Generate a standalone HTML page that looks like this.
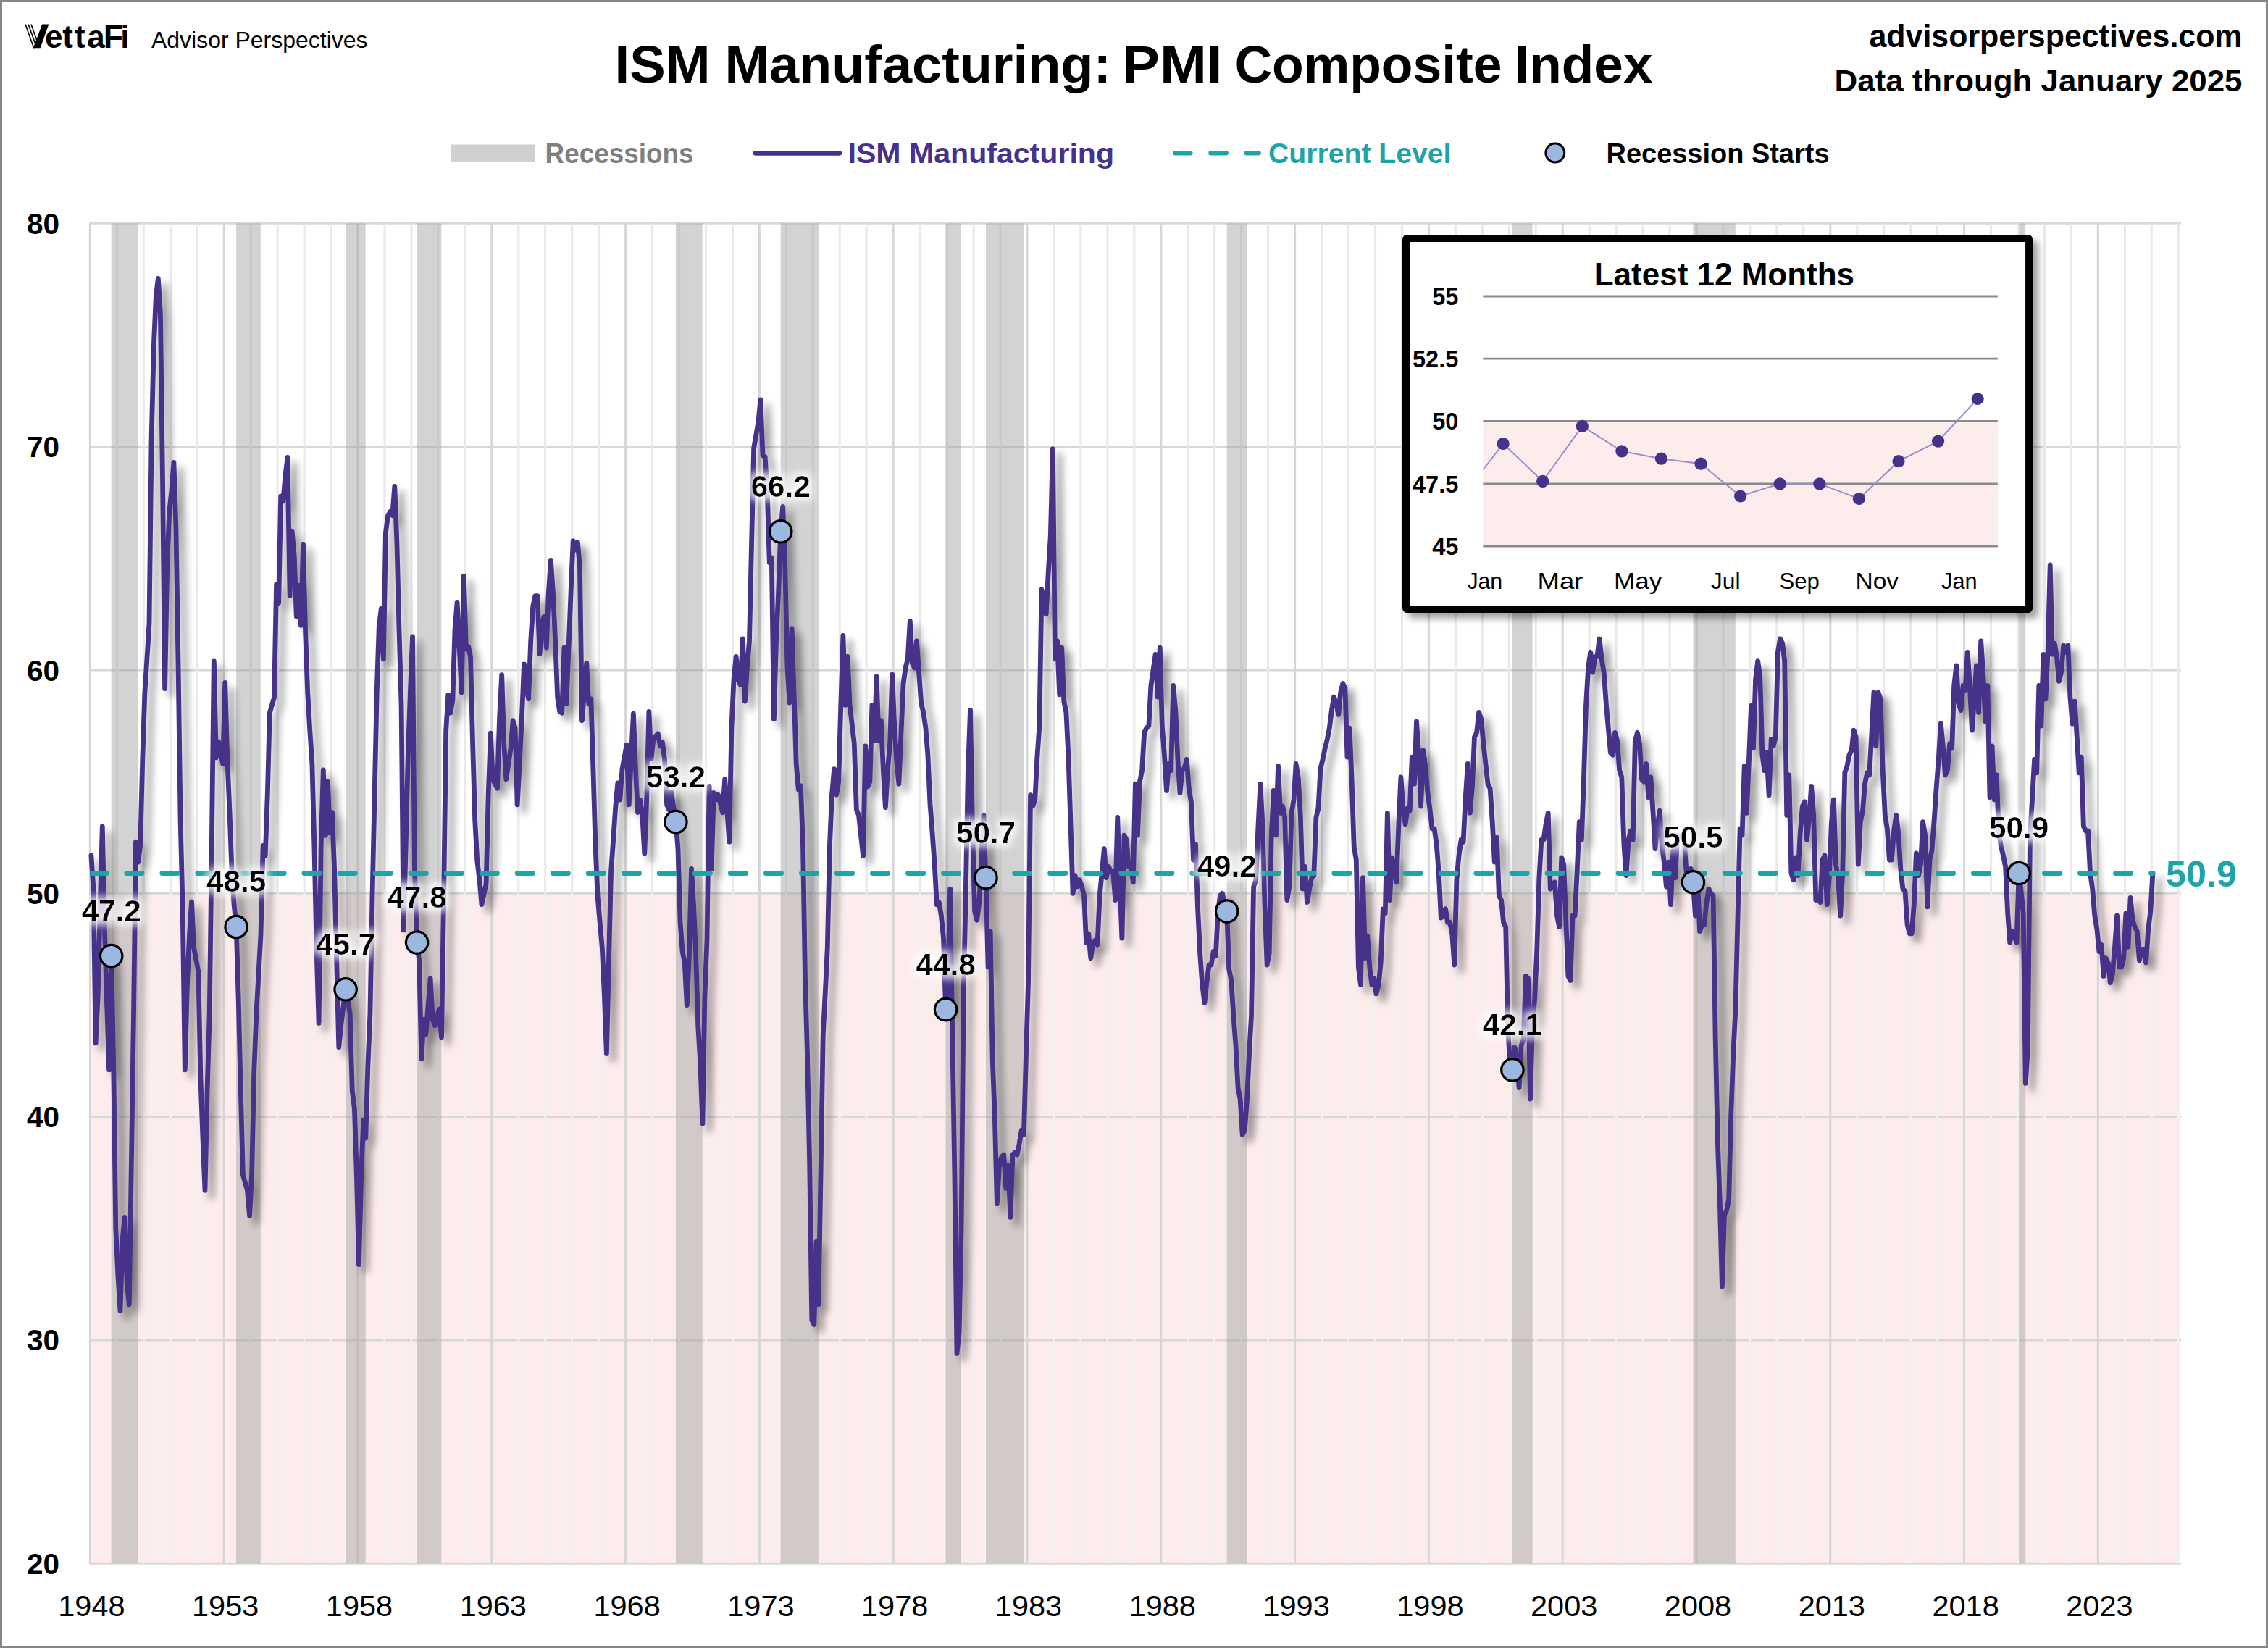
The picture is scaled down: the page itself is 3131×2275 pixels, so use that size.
<!DOCTYPE html>
<html><head><meta charset="utf-8"><title>ISM Manufacturing: PMI Composite Index</title>
<style>
html,body{margin:0;padding:0;background:#fff;}
body{width:3131px;height:2275px;position:relative;overflow:hidden;font-family:"Liberation Sans",sans-serif;}
#frame{position:absolute;left:0;top:0;width:3125px;height:2269px;border:3px solid #868686;}
svg{position:absolute;left:0;top:0;}
.t{position:absolute;white-space:nowrap;line-height:1;}
.b{font-weight:bold;}
text{font-family:"Liberation Sans",sans-serif;}
</style></head><body>
<div id="frame"></div>

<svg width="3131" height="2275" viewBox="0 0 3131 2275">
<defs>
<filter id="sh" x="-2%" y="-2%" width="104%" height="104%"><feGaussianBlur in="SourceAlpha" stdDeviation="5.2"/><feOffset dx="8.5" dy="8.5"/><feComponentTransfer><feFuncA type="linear" slope="0.42"/></feComponentTransfer><feMerge><feMergeNode/><feMergeNode in="SourceGraphic"/></feMerge></filter>
<filter id="sh2" x="-5%" y="-5%" width="112%" height="115%"><feGaussianBlur in="SourceAlpha" stdDeviation="5"/><feOffset dx="7.5" dy="7.5"/><feComponentTransfer><feFuncA type="linear" slope="0.36"/></feComponentTransfer><feMerge><feMergeNode/><feMergeNode in="SourceGraphic"/></feMerge></filter>
<filter id="glow" x="-30%" y="-60%" width="160%" height="220%"><feMorphology in="SourceAlpha" operator="dilate" radius="5" result="d"/><feGaussianBlur in="d" stdDeviation="5.5" result="b"/><feFlood flood-color="#fff" flood-opacity="0.85"/><feComposite in2="b" operator="in" result="g"/><feMerge><feMergeNode in="g"/><feMergeNode in="SourceGraphic"/></feMerge></filter>
<clipPath id="pc"><rect x="124.4" y="300" width="2890" height="1870"/></clipPath>
</defs>
<rect x="124.4" y="1233.3" width="2885.6" height="925.0" fill="#fdecec"/>
<line x1="123.4" y1="308.3" x2="3011.0" y2="308.3" stroke="#d8d8d8" stroke-width="3"/>
<line x1="123.4" y1="616.6" x2="3011.0" y2="616.6" stroke="#d8d8d8" stroke-width="3"/>
<line x1="123.4" y1="925.0" x2="3011.0" y2="925.0" stroke="#d8d8d8" stroke-width="3"/>
<line x1="123.4" y1="1233.3" x2="3011.0" y2="1233.3" stroke="#d8d8d8" stroke-width="3"/>
<line x1="123.4" y1="1541.6" x2="3011.0" y2="1541.6" stroke="#d8d8d8" stroke-width="3"/>
<line x1="123.4" y1="1849.9" x2="3011.0" y2="1849.9" stroke="#d8d8d8" stroke-width="3"/>
<line x1="123.4" y1="2158.3" x2="3011.0" y2="2158.3" stroke="#d8d8d8" stroke-width="3"/>
<line x1="124.4" y1="308.3" x2="124.4" y2="2158.3" stroke="#d6d6d6" stroke-width="3"/>
<line x1="161.4" y1="308.3" x2="161.4" y2="1233.3" stroke="#e9e9e9" stroke-width="3.1"/>
<line x1="161.4" y1="1233.3" x2="161.4" y2="2158.3" stroke="#f2f0f0" stroke-width="3.1"/>
<line x1="198.3" y1="308.3" x2="198.3" y2="1233.3" stroke="#e9e9e9" stroke-width="3.1"/>
<line x1="198.3" y1="1233.3" x2="198.3" y2="2158.3" stroke="#f2f0f0" stroke-width="3.1"/>
<line x1="235.3" y1="308.3" x2="235.3" y2="1233.3" stroke="#e9e9e9" stroke-width="3.1"/>
<line x1="235.3" y1="1233.3" x2="235.3" y2="2158.3" stroke="#f2f0f0" stroke-width="3.1"/>
<line x1="272.2" y1="308.3" x2="272.2" y2="1233.3" stroke="#e9e9e9" stroke-width="3.1"/>
<line x1="272.2" y1="1233.3" x2="272.2" y2="2158.3" stroke="#f2f0f0" stroke-width="3.1"/>
<line x1="309.2" y1="308.3" x2="309.2" y2="2158.3" stroke="#d6d6d6" stroke-width="3"/>
<line x1="346.2" y1="308.3" x2="346.2" y2="1233.3" stroke="#e9e9e9" stroke-width="3.1"/>
<line x1="346.2" y1="1233.3" x2="346.2" y2="2158.3" stroke="#f2f0f0" stroke-width="3.1"/>
<line x1="383.1" y1="308.3" x2="383.1" y2="1233.3" stroke="#e9e9e9" stroke-width="3.1"/>
<line x1="383.1" y1="1233.3" x2="383.1" y2="2158.3" stroke="#f2f0f0" stroke-width="3.1"/>
<line x1="420.1" y1="308.3" x2="420.1" y2="1233.3" stroke="#e9e9e9" stroke-width="3.1"/>
<line x1="420.1" y1="1233.3" x2="420.1" y2="2158.3" stroke="#f2f0f0" stroke-width="3.1"/>
<line x1="457.0" y1="308.3" x2="457.0" y2="1233.3" stroke="#e9e9e9" stroke-width="3.1"/>
<line x1="457.0" y1="1233.3" x2="457.0" y2="2158.3" stroke="#f2f0f0" stroke-width="3.1"/>
<line x1="494.0" y1="308.3" x2="494.0" y2="2158.3" stroke="#d6d6d6" stroke-width="3"/>
<line x1="531.0" y1="308.3" x2="531.0" y2="1233.3" stroke="#e9e9e9" stroke-width="3.1"/>
<line x1="531.0" y1="1233.3" x2="531.0" y2="2158.3" stroke="#f2f0f0" stroke-width="3.1"/>
<line x1="567.9" y1="308.3" x2="567.9" y2="1233.3" stroke="#e9e9e9" stroke-width="3.1"/>
<line x1="567.9" y1="1233.3" x2="567.9" y2="2158.3" stroke="#f2f0f0" stroke-width="3.1"/>
<line x1="604.9" y1="308.3" x2="604.9" y2="1233.3" stroke="#e9e9e9" stroke-width="3.1"/>
<line x1="604.9" y1="1233.3" x2="604.9" y2="2158.3" stroke="#f2f0f0" stroke-width="3.1"/>
<line x1="641.8" y1="308.3" x2="641.8" y2="1233.3" stroke="#e9e9e9" stroke-width="3.1"/>
<line x1="641.8" y1="1233.3" x2="641.8" y2="2158.3" stroke="#f2f0f0" stroke-width="3.1"/>
<line x1="678.8" y1="308.3" x2="678.8" y2="2158.3" stroke="#d6d6d6" stroke-width="3"/>
<line x1="715.8" y1="308.3" x2="715.8" y2="1233.3" stroke="#e9e9e9" stroke-width="3.1"/>
<line x1="715.8" y1="1233.3" x2="715.8" y2="2158.3" stroke="#f2f0f0" stroke-width="3.1"/>
<line x1="752.7" y1="308.3" x2="752.7" y2="1233.3" stroke="#e9e9e9" stroke-width="3.1"/>
<line x1="752.7" y1="1233.3" x2="752.7" y2="2158.3" stroke="#f2f0f0" stroke-width="3.1"/>
<line x1="789.7" y1="308.3" x2="789.7" y2="1233.3" stroke="#e9e9e9" stroke-width="3.1"/>
<line x1="789.7" y1="1233.3" x2="789.7" y2="2158.3" stroke="#f2f0f0" stroke-width="3.1"/>
<line x1="826.6" y1="308.3" x2="826.6" y2="1233.3" stroke="#e9e9e9" stroke-width="3.1"/>
<line x1="826.6" y1="1233.3" x2="826.6" y2="2158.3" stroke="#f2f0f0" stroke-width="3.1"/>
<line x1="863.6" y1="308.3" x2="863.6" y2="2158.3" stroke="#d6d6d6" stroke-width="3"/>
<line x1="900.6" y1="308.3" x2="900.6" y2="1233.3" stroke="#e9e9e9" stroke-width="3.1"/>
<line x1="900.6" y1="1233.3" x2="900.6" y2="2158.3" stroke="#f2f0f0" stroke-width="3.1"/>
<line x1="937.5" y1="308.3" x2="937.5" y2="1233.3" stroke="#e9e9e9" stroke-width="3.1"/>
<line x1="937.5" y1="1233.3" x2="937.5" y2="2158.3" stroke="#f2f0f0" stroke-width="3.1"/>
<line x1="974.5" y1="308.3" x2="974.5" y2="1233.3" stroke="#e9e9e9" stroke-width="3.1"/>
<line x1="974.5" y1="1233.3" x2="974.5" y2="2158.3" stroke="#f2f0f0" stroke-width="3.1"/>
<line x1="1011.4" y1="308.3" x2="1011.4" y2="1233.3" stroke="#e9e9e9" stroke-width="3.1"/>
<line x1="1011.4" y1="1233.3" x2="1011.4" y2="2158.3" stroke="#f2f0f0" stroke-width="3.1"/>
<line x1="1048.4" y1="308.3" x2="1048.4" y2="2158.3" stroke="#d6d6d6" stroke-width="3"/>
<line x1="1085.4" y1="308.3" x2="1085.4" y2="1233.3" stroke="#e9e9e9" stroke-width="3.1"/>
<line x1="1085.4" y1="1233.3" x2="1085.4" y2="2158.3" stroke="#f2f0f0" stroke-width="3.1"/>
<line x1="1122.3" y1="308.3" x2="1122.3" y2="1233.3" stroke="#e9e9e9" stroke-width="3.1"/>
<line x1="1122.3" y1="1233.3" x2="1122.3" y2="2158.3" stroke="#f2f0f0" stroke-width="3.1"/>
<line x1="1159.3" y1="308.3" x2="1159.3" y2="1233.3" stroke="#e9e9e9" stroke-width="3.1"/>
<line x1="1159.3" y1="1233.3" x2="1159.3" y2="2158.3" stroke="#f2f0f0" stroke-width="3.1"/>
<line x1="1196.2" y1="308.3" x2="1196.2" y2="1233.3" stroke="#e9e9e9" stroke-width="3.1"/>
<line x1="1196.2" y1="1233.3" x2="1196.2" y2="2158.3" stroke="#f2f0f0" stroke-width="3.1"/>
<line x1="1233.2" y1="308.3" x2="1233.2" y2="2158.3" stroke="#d6d6d6" stroke-width="3"/>
<line x1="1270.2" y1="308.3" x2="1270.2" y2="1233.3" stroke="#e9e9e9" stroke-width="3.1"/>
<line x1="1270.2" y1="1233.3" x2="1270.2" y2="2158.3" stroke="#f2f0f0" stroke-width="3.1"/>
<line x1="1307.1" y1="308.3" x2="1307.1" y2="1233.3" stroke="#e9e9e9" stroke-width="3.1"/>
<line x1="1307.1" y1="1233.3" x2="1307.1" y2="2158.3" stroke="#f2f0f0" stroke-width="3.1"/>
<line x1="1344.1" y1="308.3" x2="1344.1" y2="1233.3" stroke="#e9e9e9" stroke-width="3.1"/>
<line x1="1344.1" y1="1233.3" x2="1344.1" y2="2158.3" stroke="#f2f0f0" stroke-width="3.1"/>
<line x1="1381.0" y1="308.3" x2="1381.0" y2="1233.3" stroke="#e9e9e9" stroke-width="3.1"/>
<line x1="1381.0" y1="1233.3" x2="1381.0" y2="2158.3" stroke="#f2f0f0" stroke-width="3.1"/>
<line x1="1418.0" y1="308.3" x2="1418.0" y2="2158.3" stroke="#d6d6d6" stroke-width="3"/>
<line x1="1455.0" y1="308.3" x2="1455.0" y2="1233.3" stroke="#e9e9e9" stroke-width="3.1"/>
<line x1="1455.0" y1="1233.3" x2="1455.0" y2="2158.3" stroke="#f2f0f0" stroke-width="3.1"/>
<line x1="1491.9" y1="308.3" x2="1491.9" y2="1233.3" stroke="#e9e9e9" stroke-width="3.1"/>
<line x1="1491.9" y1="1233.3" x2="1491.9" y2="2158.3" stroke="#f2f0f0" stroke-width="3.1"/>
<line x1="1528.9" y1="308.3" x2="1528.9" y2="1233.3" stroke="#e9e9e9" stroke-width="3.1"/>
<line x1="1528.9" y1="1233.3" x2="1528.9" y2="2158.3" stroke="#f2f0f0" stroke-width="3.1"/>
<line x1="1565.8" y1="308.3" x2="1565.8" y2="1233.3" stroke="#e9e9e9" stroke-width="3.1"/>
<line x1="1565.8" y1="1233.3" x2="1565.8" y2="2158.3" stroke="#f2f0f0" stroke-width="3.1"/>
<line x1="1602.8" y1="308.3" x2="1602.8" y2="2158.3" stroke="#d6d6d6" stroke-width="3"/>
<line x1="1639.8" y1="308.3" x2="1639.8" y2="1233.3" stroke="#e9e9e9" stroke-width="3.1"/>
<line x1="1639.8" y1="1233.3" x2="1639.8" y2="2158.3" stroke="#f2f0f0" stroke-width="3.1"/>
<line x1="1676.7" y1="308.3" x2="1676.7" y2="1233.3" stroke="#e9e9e9" stroke-width="3.1"/>
<line x1="1676.7" y1="1233.3" x2="1676.7" y2="2158.3" stroke="#f2f0f0" stroke-width="3.1"/>
<line x1="1713.7" y1="308.3" x2="1713.7" y2="1233.3" stroke="#e9e9e9" stroke-width="3.1"/>
<line x1="1713.7" y1="1233.3" x2="1713.7" y2="2158.3" stroke="#f2f0f0" stroke-width="3.1"/>
<line x1="1750.6" y1="308.3" x2="1750.6" y2="1233.3" stroke="#e9e9e9" stroke-width="3.1"/>
<line x1="1750.6" y1="1233.3" x2="1750.6" y2="2158.3" stroke="#f2f0f0" stroke-width="3.1"/>
<line x1="1787.6" y1="308.3" x2="1787.6" y2="2158.3" stroke="#d6d6d6" stroke-width="3"/>
<line x1="1824.6" y1="308.3" x2="1824.6" y2="1233.3" stroke="#e9e9e9" stroke-width="3.1"/>
<line x1="1824.6" y1="1233.3" x2="1824.6" y2="2158.3" stroke="#f2f0f0" stroke-width="3.1"/>
<line x1="1861.5" y1="308.3" x2="1861.5" y2="1233.3" stroke="#e9e9e9" stroke-width="3.1"/>
<line x1="1861.5" y1="1233.3" x2="1861.5" y2="2158.3" stroke="#f2f0f0" stroke-width="3.1"/>
<line x1="1898.5" y1="308.3" x2="1898.5" y2="1233.3" stroke="#e9e9e9" stroke-width="3.1"/>
<line x1="1898.5" y1="1233.3" x2="1898.5" y2="2158.3" stroke="#f2f0f0" stroke-width="3.1"/>
<line x1="1935.4" y1="308.3" x2="1935.4" y2="1233.3" stroke="#e9e9e9" stroke-width="3.1"/>
<line x1="1935.4" y1="1233.3" x2="1935.4" y2="2158.3" stroke="#f2f0f0" stroke-width="3.1"/>
<line x1="1972.4" y1="308.3" x2="1972.4" y2="2158.3" stroke="#d6d6d6" stroke-width="3"/>
<line x1="2009.4" y1="308.3" x2="2009.4" y2="1233.3" stroke="#e9e9e9" stroke-width="3.1"/>
<line x1="2009.4" y1="1233.3" x2="2009.4" y2="2158.3" stroke="#f2f0f0" stroke-width="3.1"/>
<line x1="2046.3" y1="308.3" x2="2046.3" y2="1233.3" stroke="#e9e9e9" stroke-width="3.1"/>
<line x1="2046.3" y1="1233.3" x2="2046.3" y2="2158.3" stroke="#f2f0f0" stroke-width="3.1"/>
<line x1="2083.3" y1="308.3" x2="2083.3" y2="1233.3" stroke="#e9e9e9" stroke-width="3.1"/>
<line x1="2083.3" y1="1233.3" x2="2083.3" y2="2158.3" stroke="#f2f0f0" stroke-width="3.1"/>
<line x1="2120.2" y1="308.3" x2="2120.2" y2="1233.3" stroke="#e9e9e9" stroke-width="3.1"/>
<line x1="2120.2" y1="1233.3" x2="2120.2" y2="2158.3" stroke="#f2f0f0" stroke-width="3.1"/>
<line x1="2157.2" y1="308.3" x2="2157.2" y2="2158.3" stroke="#d6d6d6" stroke-width="3"/>
<line x1="2194.2" y1="308.3" x2="2194.2" y2="1233.3" stroke="#e9e9e9" stroke-width="3.1"/>
<line x1="2194.2" y1="1233.3" x2="2194.2" y2="2158.3" stroke="#f2f0f0" stroke-width="3.1"/>
<line x1="2231.1" y1="308.3" x2="2231.1" y2="1233.3" stroke="#e9e9e9" stroke-width="3.1"/>
<line x1="2231.1" y1="1233.3" x2="2231.1" y2="2158.3" stroke="#f2f0f0" stroke-width="3.1"/>
<line x1="2268.1" y1="308.3" x2="2268.1" y2="1233.3" stroke="#e9e9e9" stroke-width="3.1"/>
<line x1="2268.1" y1="1233.3" x2="2268.1" y2="2158.3" stroke="#f2f0f0" stroke-width="3.1"/>
<line x1="2305.0" y1="308.3" x2="2305.0" y2="1233.3" stroke="#e9e9e9" stroke-width="3.1"/>
<line x1="2305.0" y1="1233.3" x2="2305.0" y2="2158.3" stroke="#f2f0f0" stroke-width="3.1"/>
<line x1="2342.0" y1="308.3" x2="2342.0" y2="2158.3" stroke="#d6d6d6" stroke-width="3"/>
<line x1="2379.0" y1="308.3" x2="2379.0" y2="1233.3" stroke="#e9e9e9" stroke-width="3.1"/>
<line x1="2379.0" y1="1233.3" x2="2379.0" y2="2158.3" stroke="#f2f0f0" stroke-width="3.1"/>
<line x1="2415.9" y1="308.3" x2="2415.9" y2="1233.3" stroke="#e9e9e9" stroke-width="3.1"/>
<line x1="2415.9" y1="1233.3" x2="2415.9" y2="2158.3" stroke="#f2f0f0" stroke-width="3.1"/>
<line x1="2452.9" y1="308.3" x2="2452.9" y2="1233.3" stroke="#e9e9e9" stroke-width="3.1"/>
<line x1="2452.9" y1="1233.3" x2="2452.9" y2="2158.3" stroke="#f2f0f0" stroke-width="3.1"/>
<line x1="2489.8" y1="308.3" x2="2489.8" y2="1233.3" stroke="#e9e9e9" stroke-width="3.1"/>
<line x1="2489.8" y1="1233.3" x2="2489.8" y2="2158.3" stroke="#f2f0f0" stroke-width="3.1"/>
<line x1="2526.8" y1="308.3" x2="2526.8" y2="2158.3" stroke="#d6d6d6" stroke-width="3"/>
<line x1="2563.8" y1="308.3" x2="2563.8" y2="1233.3" stroke="#e9e9e9" stroke-width="3.1"/>
<line x1="2563.8" y1="1233.3" x2="2563.8" y2="2158.3" stroke="#f2f0f0" stroke-width="3.1"/>
<line x1="2600.7" y1="308.3" x2="2600.7" y2="1233.3" stroke="#e9e9e9" stroke-width="3.1"/>
<line x1="2600.7" y1="1233.3" x2="2600.7" y2="2158.3" stroke="#f2f0f0" stroke-width="3.1"/>
<line x1="2637.7" y1="308.3" x2="2637.7" y2="1233.3" stroke="#e9e9e9" stroke-width="3.1"/>
<line x1="2637.7" y1="1233.3" x2="2637.7" y2="2158.3" stroke="#f2f0f0" stroke-width="3.1"/>
<line x1="2674.6" y1="308.3" x2="2674.6" y2="1233.3" stroke="#e9e9e9" stroke-width="3.1"/>
<line x1="2674.6" y1="1233.3" x2="2674.6" y2="2158.3" stroke="#f2f0f0" stroke-width="3.1"/>
<line x1="2711.6" y1="308.3" x2="2711.6" y2="2158.3" stroke="#d6d6d6" stroke-width="3"/>
<line x1="2748.6" y1="308.3" x2="2748.6" y2="1233.3" stroke="#e9e9e9" stroke-width="3.1"/>
<line x1="2748.6" y1="1233.3" x2="2748.6" y2="2158.3" stroke="#f2f0f0" stroke-width="3.1"/>
<line x1="2785.5" y1="308.3" x2="2785.5" y2="1233.3" stroke="#e9e9e9" stroke-width="3.1"/>
<line x1="2785.5" y1="1233.3" x2="2785.5" y2="2158.3" stroke="#f2f0f0" stroke-width="3.1"/>
<line x1="2822.5" y1="308.3" x2="2822.5" y2="1233.3" stroke="#e9e9e9" stroke-width="3.1"/>
<line x1="2822.5" y1="1233.3" x2="2822.5" y2="2158.3" stroke="#f2f0f0" stroke-width="3.1"/>
<line x1="2859.4" y1="308.3" x2="2859.4" y2="1233.3" stroke="#e9e9e9" stroke-width="3.1"/>
<line x1="2859.4" y1="1233.3" x2="2859.4" y2="2158.3" stroke="#f2f0f0" stroke-width="3.1"/>
<line x1="2896.4" y1="308.3" x2="2896.4" y2="2158.3" stroke="#d6d6d6" stroke-width="3"/>
<line x1="2933.4" y1="308.3" x2="2933.4" y2="1233.3" stroke="#e9e9e9" stroke-width="3.1"/>
<line x1="2933.4" y1="1233.3" x2="2933.4" y2="2158.3" stroke="#f2f0f0" stroke-width="3.1"/>
<line x1="2970.3" y1="308.3" x2="2970.3" y2="1233.3" stroke="#e9e9e9" stroke-width="3.1"/>
<line x1="2970.3" y1="1233.3" x2="2970.3" y2="2158.3" stroke="#f2f0f0" stroke-width="3.1"/>
<line x1="3007.3" y1="308.3" x2="3007.3" y2="1233.3" stroke="#e9e9e9" stroke-width="3.1"/>
<line x1="3007.3" y1="1233.3" x2="3007.3" y2="2158.3" stroke="#f2f0f0" stroke-width="3.1"/>
<rect x="153.7" y="308.3" width="36.8" height="1850.0" fill="#a1a1a1" fill-opacity="0.47"/>
<rect x="326.1" y="308.3" width="33.7" height="1850.0" fill="#a1a1a1" fill-opacity="0.47"/>
<rect x="477.1" y="308.3" width="27.6" height="1850.0" fill="#a1a1a1" fill-opacity="0.47"/>
<rect x="575.6" y="308.3" width="33.7" height="1850.0" fill="#a1a1a1" fill-opacity="0.47"/>
<rect x="932.9" y="308.3" width="36.8" height="1850.0" fill="#a1a1a1" fill-opacity="0.47"/>
<rect x="1077.7" y="308.3" width="52.2" height="1850.0" fill="#a1a1a1" fill-opacity="0.47"/>
<rect x="1305.6" y="308.3" width="21.4" height="1850.0" fill="#a1a1a1" fill-opacity="0.47"/>
<rect x="1361.0" y="308.3" width="52.2" height="1850.0" fill="#a1a1a1" fill-opacity="0.47"/>
<rect x="1693.7" y="308.3" width="27.6" height="1850.0" fill="#a1a1a1" fill-opacity="0.47"/>
<rect x="2087.9" y="308.3" width="27.6" height="1850.0" fill="#a1a1a1" fill-opacity="0.47"/>
<rect x="2337.4" y="308.3" width="58.4" height="1850.0" fill="#a1a1a1" fill-opacity="0.47"/>
<rect x="2787.1" y="308.3" width="9.1" height="1850.0" fill="#a1a1a1" fill-opacity="0.47"/>
<polyline points="125.9,1180.9 129.0,1227.1 132.1,1439.9 135.2,1375.1 138.3,1248.7 141.3,1140.8 144.4,1282.6 147.5,1384.4 150.6,1476.9 153.7,1319.6 156.7,1467.6 159.8,1695.8 162.9,1760.5 166.0,1809.9 169.1,1711.2 172.1,1680.4 175.2,1769.8 178.3,1800.6 181.4,1603.3 184.5,1400.1 187.5,1162.1 190.6,1190.4 193.7,1167.3 196.8,1047.7 199.9,955.8 202.9,909.9 206.0,860.5 209.1,607.4 212.2,480.3 215.3,410.0 218.3,384.5 221.4,432.9 224.5,660.4 227.6,950.6 230.7,783.7 233.7,706.4 236.8,678.0 239.9,638.5 243.0,731.0 246.1,920.6 249.1,1132.2 252.2,1255.5 255.3,1476.9 258.4,1361.6 261.5,1290.9 264.5,1245.0 267.6,1308.5 270.7,1324.6 273.8,1340.3 276.9,1488.3 279.9,1569.4 283.0,1643.4 286.1,1505.9 289.2,1400.1 292.3,1167.3 295.3,912.9 298.4,1045.8 301.5,1023.6 304.6,1040.6 307.7,1054.5 310.7,942.5 313.8,1047.7 316.9,1118.0 320.0,1202.8 323.1,1248.7 326.1,1278.9 329.2,1379.1 332.3,1505.9 335.4,1622.1 338.5,1632.9 341.5,1643.4 344.6,1678.5 347.7,1618.7 350.8,1477.5 353.9,1400.1 356.9,1345.5 360.0,1290.9 363.1,1167.3 366.2,1181.5 369.3,1097.0 372.3,984.2 375.4,973.4 378.5,962.9 381.6,806.9 384.7,832.5 387.7,685.1 390.8,692.2 393.9,656.7 397.0,631.4 400.1,822.6 403.1,733.2 406.2,766.2 409.3,851.0 412.4,808.4 415.5,863.3 418.5,751.4 421.6,871.3 424.7,955.8 427.8,1008.8 430.9,1054.5 433.9,1167.3 437.0,1308.5 440.1,1412.4 443.2,1167.3 446.3,1062.8 449.3,1153.4 452.4,1079.1 455.5,1149.7 458.6,1121.7 461.7,1202.8 464.7,1326.1 467.8,1445.7 470.9,1414.0 474.0,1389.6 477.1,1364.9 480.1,1379.1 483.2,1400.1 486.3,1505.9 489.4,1530.5 492.5,1625.8 495.5,1745.7 498.6,1625.8 501.7,1546.2 504.8,1571.2 507.9,1470.4 510.9,1400.1 514.0,1237.9 517.1,1097.0 520.2,955.8 523.3,864.2 526.3,840.2 529.4,909.9 532.5,734.4 535.6,711.6 538.7,706.4 541.7,711.6 544.8,671.5 547.9,748.6 551.0,869.8 554.1,973.4 557.1,1283.9 560.2,1167.3 563.3,1044.0 566.4,955.8 569.5,879.0 572.5,1202.8 575.6,1300.8 578.7,1326.1 581.8,1461.8 584.9,1407.2 587.9,1428.2 591.0,1389.3 594.1,1350.8 597.2,1407.2 600.3,1415.8 603.3,1404.4 606.4,1393.0 609.5,1431.9 612.6,1237.9 615.7,1008.8 618.7,959.5 621.8,984.2 624.9,966.3 628.0,869.8 631.1,831.5 634.1,892.3 637.2,955.8 640.3,795.2 643.4,896.0 646.5,892.3 649.5,906.5 652.6,1026.4 655.7,1132.2 658.8,1188.6 661.9,1213.2 664.9,1248.7 668.0,1234.5 671.1,1220.3 674.2,1097.0 677.3,1012.2 680.3,1075.7 683.4,1081.9 686.5,1088.1 689.6,990.9 692.7,931.7 695.7,1026.4 698.8,1075.7 701.9,1054.5 705.0,1033.5 708.1,994.6 711.1,1005.1 714.2,1110.9 717.3,1051.1 720.4,990.9 723.5,916.9 726.5,948.7 729.6,964.7 732.7,885.2 735.8,836.8 738.9,822.6 741.9,822.6 745.0,902.8 748.1,861.4 751.2,851.0 754.3,894.1 757.3,819.2 760.4,773.3 763.5,819.2 766.6,885.2 769.7,962.9 772.7,982.3 775.8,984.2 778.9,894.1 782.0,971.2 785.1,894.1 788.1,817.0 791.2,746.7 794.3,759.1 797.4,748.6 800.5,783.7 803.5,994.6 806.6,954.9 809.7,915.4 812.8,971.8 815.9,964.7 818.9,1061.6 822.0,1167.3 825.1,1237.9 828.2,1273.4 831.3,1308.5 834.3,1372.0 837.4,1454.7 840.5,1326.1 843.6,1202.8 846.7,1158.7 849.7,1114.6 852.8,1081.0 855.9,1104.1 859.0,1061.6 862.1,1044.9 865.1,1028.3 868.2,1110.9 871.3,1048.0 874.4,985.1 877.5,1061.6 880.5,1121.7 883.6,1104.1 886.7,1125.1 889.8,1178.1 892.9,1097.0 895.9,982.3 899.0,1047.7 902.1,1019.3 905.2,1016.2 908.3,1012.8 911.3,1029.8 914.4,1024.6 917.5,1047.7 920.6,1110.9 923.7,1118.0 926.7,1093.3 929.8,1114.0 932.9,1134.6 936.0,1171.6 939.1,1273.4 942.1,1313.5 945.2,1328.9 948.3,1387.5 951.4,1319.6 954.5,1199.4 957.5,1248.7 960.6,1316.5 963.7,1415.2 966.8,1467.6 969.9,1550.9 972.9,1375.1 976.0,1298.0 979.1,1085.3 982.2,1199.4 985.3,1094.5 988.3,1104.1 991.4,1097.0 994.5,1109.3 997.6,1121.7 1000.7,1075.7 1003.7,1118.0 1006.8,1162.1 1009.9,1005.1 1013.0,938.2 1016.1,906.5 1019.1,938.2 1022.2,945.3 1025.3,881.8 1028.4,968.1 1031.5,920.6 1034.5,885.2 1037.6,748.6 1040.7,618.2 1043.8,600.3 1046.9,582.7 1049.9,551.9 1053.0,628.7 1056.1,630.5 1059.2,678.0 1062.3,776.7 1065.3,769.9 1068.4,992.8 1071.5,885.2 1074.6,819.2 1077.7,733.8 1080.7,699.3 1083.8,783.7 1086.9,920.6 1090.0,970.0 1093.1,867.6 1096.1,955.8 1099.2,1054.5 1102.3,1089.9 1105.4,1084.7 1108.5,1167.3 1111.5,1350.5 1114.6,1458.4 1117.7,1606.4 1120.8,1822.2 1123.9,1828.4 1126.9,1714.3 1130.0,1800.6 1133.1,1618.7 1136.2,1430.0 1139.3,1369.3 1142.3,1308.5 1145.4,1167.3 1148.5,1097.0 1151.6,1061.6 1154.7,1097.0 1157.7,1079.1 1160.8,973.4 1163.9,877.5 1167.0,973.4 1170.1,906.5 1173.1,973.4 1176.2,999.9 1179.3,1026.4 1182.4,1118.0 1185.5,1125.1 1188.5,1153.4 1191.6,1181.5 1194.7,1029.8 1197.8,1086.2 1200.9,1079.1 1203.9,973.4 1207.0,1022.7 1210.1,933.9 1213.2,1022.7 1216.3,994.6 1219.3,1061.6 1222.4,1114.6 1225.5,1061.6 1228.6,1026.4 1231.7,931.1 1234.7,1002.0 1237.8,1051.4 1240.9,1082.2 1244.0,1011.3 1247.1,943.5 1250.1,921.9 1253.2,909.5 1256.3,857.1 1259.4,915.7 1262.5,921.9 1265.5,884.9 1268.6,928.0 1271.7,971.2 1274.8,983.5 1277.9,1005.1 1280.9,1042.1 1284.0,1110.0 1287.1,1150.0 1290.2,1193.2 1293.3,1248.7 1296.3,1245.6 1299.4,1264.1 1302.5,1295.0 1305.6,1393.6 1308.7,1350.5 1311.7,1227.1 1314.8,1430.6 1317.9,1621.8 1321.0,1868.4 1324.1,1840.7 1327.1,1695.8 1330.2,1372.0 1333.3,1230.2 1336.4,1063.7 1339.5,980.5 1342.5,1140.8 1345.6,1258.0 1348.7,1270.3 1351.8,1245.6 1354.9,1184.0 1357.9,1125.4 1361.0,1211.7 1364.1,1335.0 1367.2,1285.7 1370.3,1464.5 1373.3,1541.6 1376.4,1661.9 1379.5,1609.5 1382.6,1597.1 1385.7,1594.0 1388.7,1640.3 1391.8,1609.5 1394.9,1680.4 1398.0,1594.0 1401.1,1591.0 1404.1,1594.0 1407.2,1578.6 1410.3,1560.1 1413.4,1566.3 1416.5,1455.3 1419.5,1356.6 1422.6,1097.6 1425.7,1113.0 1428.8,1103.8 1431.9,1045.2 1434.9,1002.0 1438.0,814.0 1441.1,829.4 1444.2,847.9 1447.3,789.3 1450.3,740.0 1453.4,619.7 1456.5,909.5 1459.6,884.9 1462.7,958.9 1465.7,894.1 1468.8,968.1 1471.9,983.5 1475.0,1045.2 1478.1,1140.8 1481.1,1233.3 1484.2,1208.6 1487.3,1224.0 1490.4,1214.8 1493.5,1224.0 1496.5,1236.4 1499.6,1301.1 1502.7,1288.8 1505.8,1322.7 1508.9,1301.1 1511.9,1298.0 1515.0,1304.2 1518.1,1236.4 1521.2,1205.5 1524.3,1171.6 1527.3,1211.7 1530.4,1196.3 1533.5,1202.5 1536.6,1202.5 1539.7,1242.5 1542.7,1128.5 1545.8,1217.9 1548.9,1295.0 1552.0,1153.1 1555.1,1159.3 1558.1,1196.3 1561.2,1196.3 1564.3,1217.9 1567.4,1082.2 1570.5,1153.1 1573.5,1079.1 1576.6,1063.7 1579.7,1011.3 1582.8,1005.1 1585.9,1002.0 1588.9,946.5 1592.0,925.0 1595.1,903.4 1598.2,962.0 1601.3,894.1 1604.3,1002.0 1607.4,1042.1 1610.5,1091.5 1613.6,1054.5 1616.7,1063.7 1619.7,946.5 1622.8,980.5 1625.9,1048.3 1629.0,1094.5 1632.1,1063.7 1635.1,1060.6 1638.2,1048.3 1641.3,1088.4 1644.4,1106.9 1647.5,1187.0 1650.5,1165.5 1653.6,1254.9 1656.7,1316.5 1659.8,1359.7 1662.9,1384.4 1665.9,1356.6 1669.0,1332.0 1672.1,1332.0 1675.2,1313.5 1678.3,1319.6 1681.3,1261.0 1684.4,1236.4 1687.5,1233.3 1690.6,1248.7 1693.7,1258.0 1696.7,1338.1 1699.8,1353.5 1702.9,1402.9 1706.0,1443.0 1709.1,1501.5 1712.1,1517.0 1715.2,1566.3 1718.3,1560.1 1721.4,1520.0 1724.5,1455.3 1727.5,1402.9 1730.6,1224.0 1733.7,1214.8 1736.8,1143.9 1739.9,1082.2 1742.9,1137.7 1746.0,1248.7 1749.1,1332.0 1752.2,1316.5 1755.3,1150.0 1758.3,1091.5 1761.4,1153.1 1764.5,1057.5 1767.6,1122.3 1770.7,1113.0 1773.7,1128.5 1776.8,1242.5 1779.9,1224.0 1783.0,1122.3 1786.1,1103.8 1789.1,1054.5 1792.2,1073.0 1795.3,1125.4 1798.4,1227.1 1801.5,1196.3 1804.5,1245.6 1807.6,1227.1 1810.7,1211.7 1813.8,1208.6 1816.9,1128.5 1819.9,1116.1 1823.0,1060.6 1826.1,1048.3 1829.2,1032.9 1832.3,1020.5 1835.3,1005.1 1838.4,980.5 1841.5,962.0 1844.6,971.2 1847.7,986.6 1850.7,955.8 1853.8,943.5 1856.9,949.6 1860.0,1045.2 1863.1,1005.1 1866.1,1076.0 1869.2,1168.5 1872.3,1187.0 1875.4,1335.0 1878.5,1359.7 1881.5,1211.7 1884.6,1322.7 1887.7,1291.9 1890.8,1335.0 1893.9,1359.7 1896.9,1350.5 1900.0,1372.0 1903.1,1359.7 1906.2,1328.9 1909.3,1254.9 1912.3,1261.0 1915.4,1122.3 1918.5,1242.5 1921.6,1184.0 1924.7,1199.4 1927.7,1217.9 1930.8,1140.8 1933.9,1073.0 1937.0,1116.1 1940.1,1137.7 1943.1,1116.1 1946.2,1119.2 1949.3,1045.2 1952.4,1082.2 1955.5,995.9 1958.5,1039.0 1961.6,1113.0 1964.7,1036.0 1967.8,1057.5 1970.9,1094.5 1973.9,1116.1 1977.0,1143.9 1980.1,1143.9 1983.2,1165.5 1986.3,1205.5 1989.3,1267.2 1992.4,1258.0 1995.5,1254.9 1998.6,1273.4 2001.7,1273.4 2004.7,1288.8 2007.8,1332.0 2010.9,1214.8 2014.0,1180.9 2017.1,1159.3 2020.1,1162.4 2023.2,1100.7 2026.3,1054.5 2029.4,1122.3 2032.5,1085.3 2035.5,1017.5 2038.6,1011.3 2041.7,983.5 2044.8,992.8 2047.9,1026.7 2050.9,1054.5 2054.0,1082.2 2057.1,1088.4 2060.2,1134.6 2063.3,1190.1 2066.3,1156.2 2069.4,1236.4 2072.5,1242.5 2075.6,1273.4 2078.7,1279.5 2081.7,1421.4 2084.8,1470.7 2087.9,1476.9 2091.0,1446.0 2094.1,1458.4 2097.1,1501.5 2100.2,1443.0 2103.3,1433.7 2106.4,1347.4 2109.5,1350.5 2112.5,1517.0 2115.6,1415.2 2118.7,1378.2 2121.8,1310.4 2124.9,1211.7 2127.9,1159.3 2131.0,1159.3 2134.1,1137.7 2137.2,1122.3 2140.3,1227.1 2143.3,1224.0 2146.4,1217.9 2149.5,1264.1 2152.6,1279.5 2155.7,1184.0 2158.7,1193.2 2161.8,1270.3 2164.9,1347.4 2168.0,1353.5 2171.1,1264.1 2174.1,1264.1 2177.2,1202.5 2180.3,1134.6 2183.4,1159.3 2186.5,1073.0 2189.5,974.3 2192.6,921.9 2195.7,900.3 2198.8,928.0 2201.9,906.5 2204.9,906.5 2208.0,881.8 2211.1,909.5 2214.2,928.0 2217.3,971.2 2220.3,1005.1 2223.4,1039.0 2226.5,1042.1 2229.6,1011.3 2232.7,1023.6 2235.7,1063.7 2238.8,1073.0 2241.9,1165.5 2245.0,1208.6 2248.1,1159.3 2251.1,1147.0 2254.2,1159.3 2257.3,1023.6 2260.4,1011.3 2263.5,1026.7 2266.5,1076.0 2269.6,1079.1 2272.7,1054.5 2275.8,1100.7 2278.9,1073.0 2281.9,1119.2 2285.0,1171.6 2288.1,1140.8 2291.2,1119.2 2294.3,1165.5 2297.3,1190.1 2300.4,1224.0 2303.5,1190.1 2306.6,1248.7 2309.7,1174.7 2312.7,1211.7 2315.8,1153.1 2318.9,1156.2 2322.0,1153.1 2325.1,1159.3 2328.1,1205.5 2331.2,1202.5 2334.3,1199.4 2337.4,1217.9 2340.5,1264.1 2343.5,1211.7 2346.6,1285.7 2349.7,1276.5 2352.8,1276.5 2355.9,1245.6 2358.9,1227.1 2362.0,1233.3 2365.1,1236.4 2368.2,1433.7 2371.3,1575.5 2374.3,1658.8 2377.4,1776.0 2380.5,1677.3 2383.6,1671.1 2386.7,1655.7 2389.7,1538.5 2392.8,1455.3 2395.9,1393.6 2399.0,1267.2 2402.1,1143.9 2405.1,1153.1 2408.2,1057.5 2411.3,1122.3 2414.4,1051.4 2417.5,974.3 2420.5,1032.9 2423.6,937.3 2426.7,912.6 2429.8,934.2 2432.9,1042.1 2435.9,1063.7 2439.0,1039.0 2442.1,1097.6 2445.2,1020.5 2448.3,1029.8 2451.3,1017.5 2454.4,900.3 2457.5,881.8 2460.6,888.0 2463.7,912.6 2466.7,1125.4 2469.8,1069.9 2472.9,1205.5 2476.0,1214.8 2479.1,1184.0 2482.1,1208.6 2485.2,1150.0 2488.3,1113.0 2491.4,1106.9 2494.5,1159.3 2497.5,1128.5 2500.6,1085.3 2503.7,1125.4 2506.8,1242.5 2509.9,1239.5 2512.9,1245.6 2516.0,1187.0 2519.1,1180.9 2522.2,1248.7 2525.3,1211.7 2528.3,1137.7 2531.4,1103.8 2534.5,1193.2 2537.6,1211.7 2540.7,1264.1 2543.7,1205.5 2546.8,1066.8 2549.9,1057.5 2553.0,1042.1 2556.1,1036.0 2559.1,1008.2 2562.2,1017.5 2565.3,1193.2 2568.4,1134.6 2571.5,1119.2 2574.5,1082.2 2577.6,1066.8 2580.7,1069.9 2583.8,1014.4 2586.9,955.8 2589.9,1029.8 2593.0,955.8 2596.1,965.0 2599.2,1063.7 2602.3,1125.4 2605.3,1143.9 2608.4,1187.0 2611.5,1187.0 2614.6,1147.0 2617.7,1125.4 2620.7,1150.0 2623.8,1199.4 2626.9,1227.1 2630.0,1230.2 2633.1,1276.5 2636.1,1288.8 2639.2,1288.8 2642.3,1248.7 2645.4,1177.8 2648.5,1208.6 2651.5,1193.2 2654.6,1134.6 2657.7,1153.1 2660.8,1251.8 2663.9,1187.0 2666.9,1174.7 2670.0,1134.6 2673.1,1088.4 2676.2,1048.3 2679.3,999.0 2682.3,1029.8 2685.4,1069.9 2688.5,1063.7 2691.6,1026.7 2694.7,1032.9 2697.7,946.5 2700.8,918.8 2703.9,971.2 2707.0,980.5 2710.1,946.5 2713.1,952.7 2716.2,900.3 2719.3,946.5 2722.4,1008.2 2725.5,965.0 2728.5,918.8 2731.6,983.5 2734.7,884.9 2737.8,931.1 2740.9,995.9 2743.9,946.5 2747.0,1100.7 2750.1,1029.8 2753.2,1103.8 2756.3,1069.9 2759.3,1147.0 2762.4,1168.5 2765.5,1180.9 2768.6,1196.3 2771.7,1261.0 2774.7,1301.1 2777.8,1285.7 2780.9,1291.9 2784.0,1301.1 2787.1,1205.5 2790.1,1230.2 2793.2,1261.0 2796.3,1495.4 2799.4,1446.0 2802.5,1153.1 2805.5,1103.8 2808.6,1048.3 2811.7,1066.8 2814.8,946.5 2817.9,1002.0 2820.9,903.4 2824.0,965.0 2827.1,900.3 2830.2,780.0 2833.3,903.4 2836.3,888.0 2839.4,906.5 2842.5,940.4 2845.6,928.0 2848.7,891.0 2851.7,900.3 2854.8,891.0 2857.9,962.0 2861.0,999.0 2864.1,968.1 2867.1,1014.4 2870.2,1066.8 2873.3,1045.2 2876.4,1140.8 2879.5,1147.0 2882.5,1147.0 2885.6,1205.5 2888.7,1227.1 2891.8,1264.1 2894.9,1282.6 2897.9,1313.5 2901.0,1304.2 2904.1,1347.4 2907.2,1322.7 2910.3,1328.9 2913.3,1356.6 2916.4,1344.3 2919.5,1307.3 2922.6,1264.1 2925.7,1335.0 2928.7,1335.0 2931.8,1322.7 2934.9,1261.0 2938.0,1307.3 2941.1,1239.5 2944.1,1270.3 2947.2,1279.5 2950.3,1285.7 2953.4,1325.8 2956.5,1310.4 2959.5,1310.4 2962.6,1328.9 2965.7,1282.6 2968.8,1258.0 2971.9,1205.5" fill="none" stroke="#46328a" stroke-width="6.8" stroke-linejoin="round" stroke-linecap="round" filter="url(#sh)"/>
<line x1="125.9" y1="1205.5" x2="2971.9" y2="1205.5" stroke="#1da4a8" stroke-width="7" stroke-linecap="round" stroke-dasharray="21.0 28.03" clip-path="url(#pc)"/>
<circle cx="153.7" cy="1319.6" r="15.2" fill="#9db8e0" stroke="#000" stroke-width="3.2"/>
<circle cx="326.1" cy="1279.5" r="15.2" fill="#9db8e0" stroke="#000" stroke-width="3.2"/>
<circle cx="477.1" cy="1365.9" r="15.2" fill="#9db8e0" stroke="#000" stroke-width="3.2"/>
<circle cx="575.6" cy="1301.1" r="15.2" fill="#9db8e0" stroke="#000" stroke-width="3.2"/>
<circle cx="932.9" cy="1134.6" r="15.2" fill="#9db8e0" stroke="#000" stroke-width="3.2"/>
<circle cx="1077.7" cy="733.8" r="15.2" fill="#9db8e0" stroke="#000" stroke-width="3.2"/>
<circle cx="1305.6" cy="1393.6" r="15.2" fill="#9db8e0" stroke="#000" stroke-width="3.2"/>
<circle cx="1361.0" cy="1211.7" r="15.2" fill="#9db8e0" stroke="#000" stroke-width="3.2"/>
<circle cx="1693.7" cy="1258.0" r="15.2" fill="#9db8e0" stroke="#000" stroke-width="3.2"/>
<circle cx="2087.9" cy="1476.9" r="15.2" fill="#9db8e0" stroke="#000" stroke-width="3.2"/>
<circle cx="2337.4" cy="1217.9" r="15.2" fill="#9db8e0" stroke="#000" stroke-width="3.2"/>
<circle cx="2787.1" cy="1205.5" r="15.2" fill="#9db8e0" stroke="#000" stroke-width="3.2"/>
<text x="153.7" y="1271.5" font-size="42.2" font-weight="bold" text-anchor="middle" fill="#000" filter="url(#glow)">47.2</text>
<text x="326.1" y="1231.4" font-size="42.2" font-weight="bold" text-anchor="middle" fill="#000" filter="url(#glow)">48.5</text>
<text x="477.1" y="1317.8" font-size="42.2" font-weight="bold" text-anchor="middle" fill="#000" filter="url(#glow)">45.7</text>
<text x="575.6" y="1253.0" font-size="42.2" font-weight="bold" text-anchor="middle" fill="#000" filter="url(#glow)">47.8</text>
<text x="932.9" y="1086.5" font-size="42.2" font-weight="bold" text-anchor="middle" fill="#000" filter="url(#glow)">53.2</text>
<text x="1077.7" y="685.7" font-size="42.2" font-weight="bold" text-anchor="middle" fill="#000" filter="url(#glow)">66.2</text>
<text x="1305.6" y="1345.5" font-size="42.2" font-weight="bold" text-anchor="middle" fill="#000" filter="url(#glow)">44.8</text>
<text x="1361.0" y="1163.6" font-size="42.2" font-weight="bold" text-anchor="middle" fill="#000" filter="url(#glow)">50.7</text>
<text x="1693.7" y="1209.9" font-size="42.2" font-weight="bold" text-anchor="middle" fill="#000" filter="url(#glow)">49.2</text>
<text x="2087.9" y="1428.8" font-size="42.2" font-weight="bold" text-anchor="middle" fill="#000" filter="url(#glow)">42.1</text>
<text x="2337.4" y="1169.8" font-size="42.2" font-weight="bold" text-anchor="middle" fill="#000" filter="url(#glow)">50.5</text>
<text x="2787.1" y="1157.4" font-size="42.2" font-weight="bold" text-anchor="middle" fill="#000" filter="url(#glow)">50.9</text>
<text x="2990" y="1224.2" font-size="50.3" font-weight="bold" fill="#1da4a8">50.9</text>
<rect x="622.9" y="199.5" width="116" height="24.3" fill="#d0d0d0"/>
<line x1="1043" y1="211.3" x2="1158.8" y2="211.3" stroke="#46328a" stroke-width="6.8" stroke-linecap="round"/>
<line x1="1622.3" y1="211.3" x2="1737.5" y2="211.3" stroke="#1da4a8" stroke-width="6.6" stroke-linecap="round" stroke-dasharray="21 28.3"/>
<circle cx="2146.8" cy="211" r="12.9" fill="#9db8e0" stroke="#000" stroke-width="3"/>
<rect x="1941.0" y="328.9" width="860.1" height="512.2" rx="1.5" fill="#fff" stroke="#000" stroke-width="10" filter="url(#sh2)"/>
<rect x="2047.4" y="581.5" width="710.4" height="172.5" fill="#fdecec"/>
<line x1="2047.4" y1="409.0" x2="2757.8" y2="409.0" stroke="#8a8a8a" stroke-width="2.8"/>
<line x1="2047.4" y1="495.2" x2="2757.8" y2="495.2" stroke="#8a8a8a" stroke-width="2.8"/>
<line x1="2047.4" y1="581.5" x2="2757.8" y2="581.5" stroke="#8a8a8a" stroke-width="2.8"/>
<line x1="2047.4" y1="667.8" x2="2757.8" y2="667.8" stroke="#8a8a8a" stroke-width="2.8"/>
<line x1="2047.4" y1="754.0" x2="2757.8" y2="754.0" stroke="#8a8a8a" stroke-width="2.8"/>
<polyline points="2047.4,648.5 2075.1,612.5 2129.7,664.3 2184.3,588.4 2238.9,622.9 2293.4,633.2 2348.0,640.2 2402.6,685.0 2457.2,667.8 2511.8,667.8 2566.4,688.5 2621.0,636.7 2675.6,609.1 2730.2,550.5" fill="none" stroke="#9c8dc6" stroke-width="2"/>
<circle cx="2075.1" cy="612.5" r="8.6" fill="#46328a"/>
<circle cx="2129.7" cy="664.3" r="8.6" fill="#46328a"/>
<circle cx="2184.3" cy="588.4" r="8.6" fill="#46328a"/>
<circle cx="2238.9" cy="622.9" r="8.6" fill="#46328a"/>
<circle cx="2293.4" cy="633.2" r="8.6" fill="#46328a"/>
<circle cx="2348.0" cy="640.2" r="8.6" fill="#46328a"/>
<circle cx="2402.6" cy="685.0" r="8.6" fill="#46328a"/>
<circle cx="2457.2" cy="667.8" r="8.6" fill="#46328a"/>
<circle cx="2511.8" cy="667.8" r="8.6" fill="#46328a"/>
<circle cx="2566.4" cy="688.5" r="8.6" fill="#46328a"/>
<circle cx="2621.0" cy="636.7" r="8.6" fill="#46328a"/>
<circle cx="2675.6" cy="609.1" r="8.6" fill="#46328a"/>
<circle cx="2730.2" cy="550.5" r="8.6" fill="#46328a"/>
<text x="2025.4" y="813" font-size="32" fill="#000" textLength="48.7" lengthAdjust="spacingAndGlyphs">Jan</text>
<text x="2122.6" y="813" font-size="32" fill="#000" textLength="62.9" lengthAdjust="spacingAndGlyphs">Mar</text>
<text x="2228.1" y="813" font-size="32" fill="#000" textLength="66.3" lengthAdjust="spacingAndGlyphs">May</text>
<text x="2361.8" y="813" font-size="32" fill="#000" textLength="40.7" lengthAdjust="spacingAndGlyphs">Jul</text>
<text x="2456.4" y="813" font-size="32" fill="#000" textLength="55.4" lengthAdjust="spacingAndGlyphs">Sep</text>
<text x="2561.6" y="813" font-size="32" fill="#000" textLength="59.5" lengthAdjust="spacingAndGlyphs">Nov</text>
<text x="2680.1" y="813" font-size="32" fill="#000" textLength="49.5" lengthAdjust="spacingAndGlyphs">Jan</text>
<text x="2013.3" y="420.7" font-size="32.5" font-weight="bold" text-anchor="end" fill="#000">55</text>
<text x="2013.3" y="506.9" font-size="32.5" font-weight="bold" text-anchor="end" fill="#000">52.5</text>
<text x="2013.3" y="593.2" font-size="32.5" font-weight="bold" text-anchor="end" fill="#000">50</text>
<text x="2013.3" y="679.5" font-size="32.5" font-weight="bold" text-anchor="end" fill="#000">47.5</text>
<text x="2013.3" y="765.7" font-size="32.5" font-weight="bold" text-anchor="end" fill="#000">45</text>
<text x="2380.4" y="394" font-size="44" font-weight="bold" text-anchor="middle" fill="#000">Latest 12 Months</text>
<text x="59.5" y="322.8" font-size="40.5" font-weight="bold" text-anchor="middle" fill="#000">80</text>
<text x="59.5" y="631.1" font-size="40.5" font-weight="bold" text-anchor="middle" fill="#000">70</text>
<text x="59.5" y="939.5" font-size="40.5" font-weight="bold" text-anchor="middle" fill="#000">60</text>
<text x="59.5" y="1247.8" font-size="40.5" font-weight="bold" text-anchor="middle" fill="#000">50</text>
<text x="59.5" y="1556.1" font-size="40.5" font-weight="bold" text-anchor="middle" fill="#000">40</text>
<text x="59.5" y="1864.4" font-size="40.5" font-weight="bold" text-anchor="middle" fill="#000">30</text>
<text x="59.5" y="2172.8" font-size="40.5" font-weight="bold" text-anchor="middle" fill="#000">20</text>
<text x="126.4" y="2231" font-size="41.5" text-anchor="middle" fill="#000">1948</text>
<text x="311.2" y="2231" font-size="41.5" text-anchor="middle" fill="#000">1953</text>
<text x="496.0" y="2231" font-size="41.5" text-anchor="middle" fill="#000">1958</text>
<text x="680.8" y="2231" font-size="41.5" text-anchor="middle" fill="#000">1963</text>
<text x="865.6" y="2231" font-size="41.5" text-anchor="middle" fill="#000">1968</text>
<text x="1050.4" y="2231" font-size="41.5" text-anchor="middle" fill="#000">1973</text>
<text x="1235.2" y="2231" font-size="41.5" text-anchor="middle" fill="#000">1978</text>
<text x="1420.0" y="2231" font-size="41.5" text-anchor="middle" fill="#000">1983</text>
<text x="1604.8" y="2231" font-size="41.5" text-anchor="middle" fill="#000">1988</text>
<text x="1789.6" y="2231" font-size="41.5" text-anchor="middle" fill="#000">1993</text>
<text x="1974.4" y="2231" font-size="41.5" text-anchor="middle" fill="#000">1998</text>
<text x="2159.2" y="2231" font-size="41.5" text-anchor="middle" fill="#000">2003</text>
<text x="2344.0" y="2231" font-size="41.5" text-anchor="middle" fill="#000">2008</text>
<text x="2528.8" y="2231" font-size="41.5" text-anchor="middle" fill="#000">2013</text>
<text x="2713.6" y="2231" font-size="41.5" text-anchor="middle" fill="#000">2018</text>
<text x="2898.4" y="2231" font-size="41.5" text-anchor="middle" fill="#000">2023</text>
<text x="752.5" y="224.7" font-size="38.2" font-weight="bold" fill="#7f7f7f" textLength="205.0" lengthAdjust="spacingAndGlyphs">Recessions</text>
<text x="1170.5" y="224.7" font-size="38.2" font-weight="bold" fill="#46328a" textLength="367.5" lengthAdjust="spacingAndGlyphs">ISM Manufacturing</text>
<text x="1751" y="224.7" font-size="38.2" font-weight="bold" fill="#1da4a8" textLength="252.5" lengthAdjust="spacingAndGlyphs">Current Level</text>
<text x="2217.5" y="224.7" font-size="38.2" font-weight="bold" fill="#000" textLength="308.0" lengthAdjust="spacingAndGlyphs">Recession Starts</text>
<text x="848.5" y="114" font-size="72" font-weight="bold" fill="#000" textLength="132.0" lengthAdjust="spacingAndGlyphs">ISM</text>
<text x="1000.5" y="114" font-size="72" font-weight="bold" fill="#000" textLength="533.5" lengthAdjust="spacingAndGlyphs">Manufacturing:</text>
<text x="1549" y="114" font-size="72" font-weight="bold" fill="#000" textLength="138.5" lengthAdjust="spacingAndGlyphs">PMI</text>
<text x="1704.5" y="114" font-size="72" font-weight="bold" fill="#000" textLength="369.0" lengthAdjust="spacingAndGlyphs">Composite</text>
<text x="2091" y="114" font-size="72" font-weight="bold" fill="#000" textLength="190.5" lengthAdjust="spacingAndGlyphs">Index</text>
<text x="2580.5" y="65.1" font-size="44.3" font-weight="bold" fill="#000" textLength="515.0" lengthAdjust="spacingAndGlyphs">advisorperspectives.com</text>
<text x="2532.5" y="126.3" font-size="42.5" font-weight="bold" fill="#000" textLength="563.0" lengthAdjust="spacingAndGlyphs">Data through January 2025</text>
<g fill="#000" stroke="none">
<polygon points="58.16,33.40 67.33,33.40 55.69,66.21 45.81,66.21"/>
<polygon points="34.17,33.40 35.86,33.40 47.51,66.21 45.82,66.21"/>
<polygon points="38.26,33.40 39.96,33.40 49.72,60.92 48.03,60.92"/>
<polygon points="42.14,33.40 43.84,33.40 51.72,55.63 50.03,55.63"/>
</g>
<text x="61.9 86.2 103.1 120.2 142.9 166.2" y="66.2" font-size="44" font-weight="bold" fill="#000">ettaFi</text>
<text x="209.0" y="66.2" font-size="31.2" fill="#000" textLength="298.5" lengthAdjust="spacingAndGlyphs">Advisor Perspectives</text>
</svg></body></html>
